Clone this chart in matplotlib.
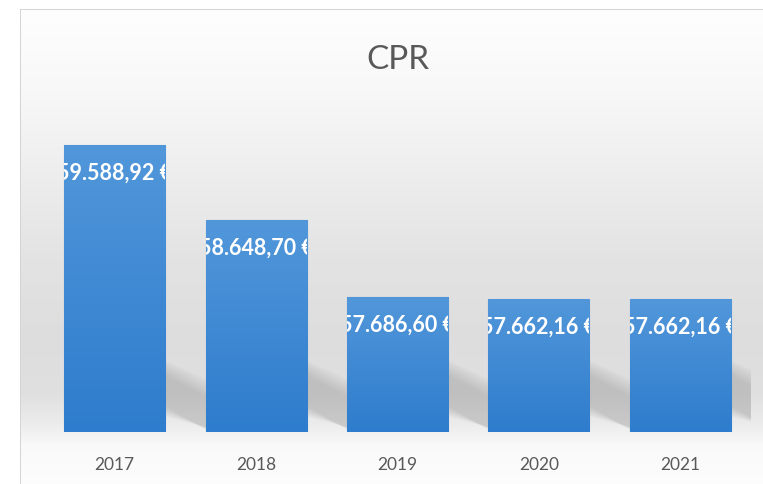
"""
CPR per year - Excel style column chart with gradient fills and soft shadows.
"""

import matplotlib
matplotlib.use("Agg")
import matplotlib.pyplot as plt
import numpy as np
from matplotlib.patches import Polygon, Rectangle
from matplotlib.transforms import Bbox, TransformedBbox

# ---------------------------------------------------------------------------
# Data
# ---------------------------------------------------------------------------
years = ["2017", "2018", "2019", "2020", "2021"]
cpr_values = [59588.92, 58648.70, 57686.60, 57662.16, 57662.16]
title = "CPR"

y_min, y_max = 56000, 60000


def euro(v: float) -> str:
    """Format as 59.588,92 €."""
    s = f"{v:,.2f}".replace(",", "X").replace(".", ",").replace("X", ".")
    return s + " €"


W, H = 763, 485
fig = plt.figure(figsize=(W / 100, H / 100), dpi=100)
fig.patch.set_facecolor("white")

# ---------------------------------------------------------------------------
# Chart area background (vertical grey gradient inside a thin frame)
# ---------------------------------------------------------------------------
frame_l, frame_t = 20, 10
rows = np.arange(frame_t, H)
stops_y = [10, 90, 170, 260, 340, 395, 425, 445, 485]
stops_v = [254, 248, 238, 227, 221, 224, 236, 249, 253]
grey = np.interp(rows, stops_y, stops_v) / 255.0
grad = np.tile(grey[:, None, None], (1, W - frame_l, 3))
border = np.array([0xd4, 0xd4, 0xd4]) / 255
grad[:1, :, :] = border          # top frame edge
grad[:, :1, :] = border          # left frame edge
fig.figimage(grad, xo=frame_l, yo=0, origin="upper", zorder=-10)

# ---------------------------------------------------------------------------
# Main axes
# ---------------------------------------------------------------------------
ax = fig.add_axes([44 / W, 52 / H, 707 / W, 320 / H])
ax.set_facecolor("none")
ax.set_xlim(-0.5, len(years) - 0.5)
ax.set_ylim(y_min, y_max)
for sp in ax.spines.values():
    sp.set_visible(False)
ax.set_yticks([])
ax.set_xticks(range(len(years)))
ax.set_xticklabels(years, fontsize=12.5, color="#595959", family="Lato")
ax.tick_params(axis="x", length=0, pad=17)

bar_w = 0.715
x = np.arange(len(years))

inv = ax.transData.inverted()


def px_to_data(x0, y0, pts):
    """Offset pixel points (dx, dy) from data anchor (x0, y0)."""
    ox, oy = ax.transData.transform((x0, y0))
    return [inv.transform((ox + dx, oy + dy)) for dx, dy in pts]


# soft perspective shadows falling to the right of each bar
for xi in x:
    xr = xi + bar_w / 2
    for grow in np.linspace(14, 0, 10):
        pts = [(-10, 62 + grow), (44 + grow, 34 + grow * 0.8),
               (44 + grow, 0), (-10, 32 - grow)]
        ax.add_patch(Polygon(px_to_data(xr, y_min, pts), closed=True,
                             facecolor="#8c8c8c", edgecolor="none",
                             alpha=0.04, zorder=1))

# gradient bars
bar_grad = np.linspace(0, 1, 256)[:, None]
top_c = np.array([0x52, 0x97, 0xda]) / 255
bot_c = np.array([0x2e, 0x7c, 0xcd]) / 255
bar_img = top_c * (1 - bar_grad[..., None]) + bot_c * bar_grad[..., None]

for xi, v in zip(x, cpr_values):
    x0, x1 = xi - bar_w / 2, xi + bar_w / 2
    rect = Rectangle((x0, y_min), bar_w, v - y_min, facecolor="#3a86d2",
                     edgecolor="#6aa6de", lw=0.8, zorder=3)
    ax.add_patch(rect)
    im = ax.imshow(bar_img, extent=(x0, x1, y_min, v), aspect="auto",
                   interpolation="bilinear", zorder=3.5)
    im.set_clip_path(rect)

    # value label inside the bar top, clipped at the bar edges
    lx, ly = px_to_data(xi, v, [(0, -27)])[0]
    t = ax.text(xi, ly, euro(v), ha="center", va="center", color="white",
                fontsize=15.5, fontweight="bold", family="Lato", zorder=5)
    t.set_clip_box(TransformedBbox(Bbox([[x0, y_min], [x1, v]]), ax.transData))
    t.set_clip_on(True)

ax.set_xlim(-0.5, len(years) - 0.5)
ax.set_ylim(y_min, y_max)

fig.text((44 + 707 / 2) / W, 1 - 60 / H, title, ha="center", va="center",
         fontsize=24, color="#595959", family="Lato")

fig.savefig("out.png", dpi=100)
